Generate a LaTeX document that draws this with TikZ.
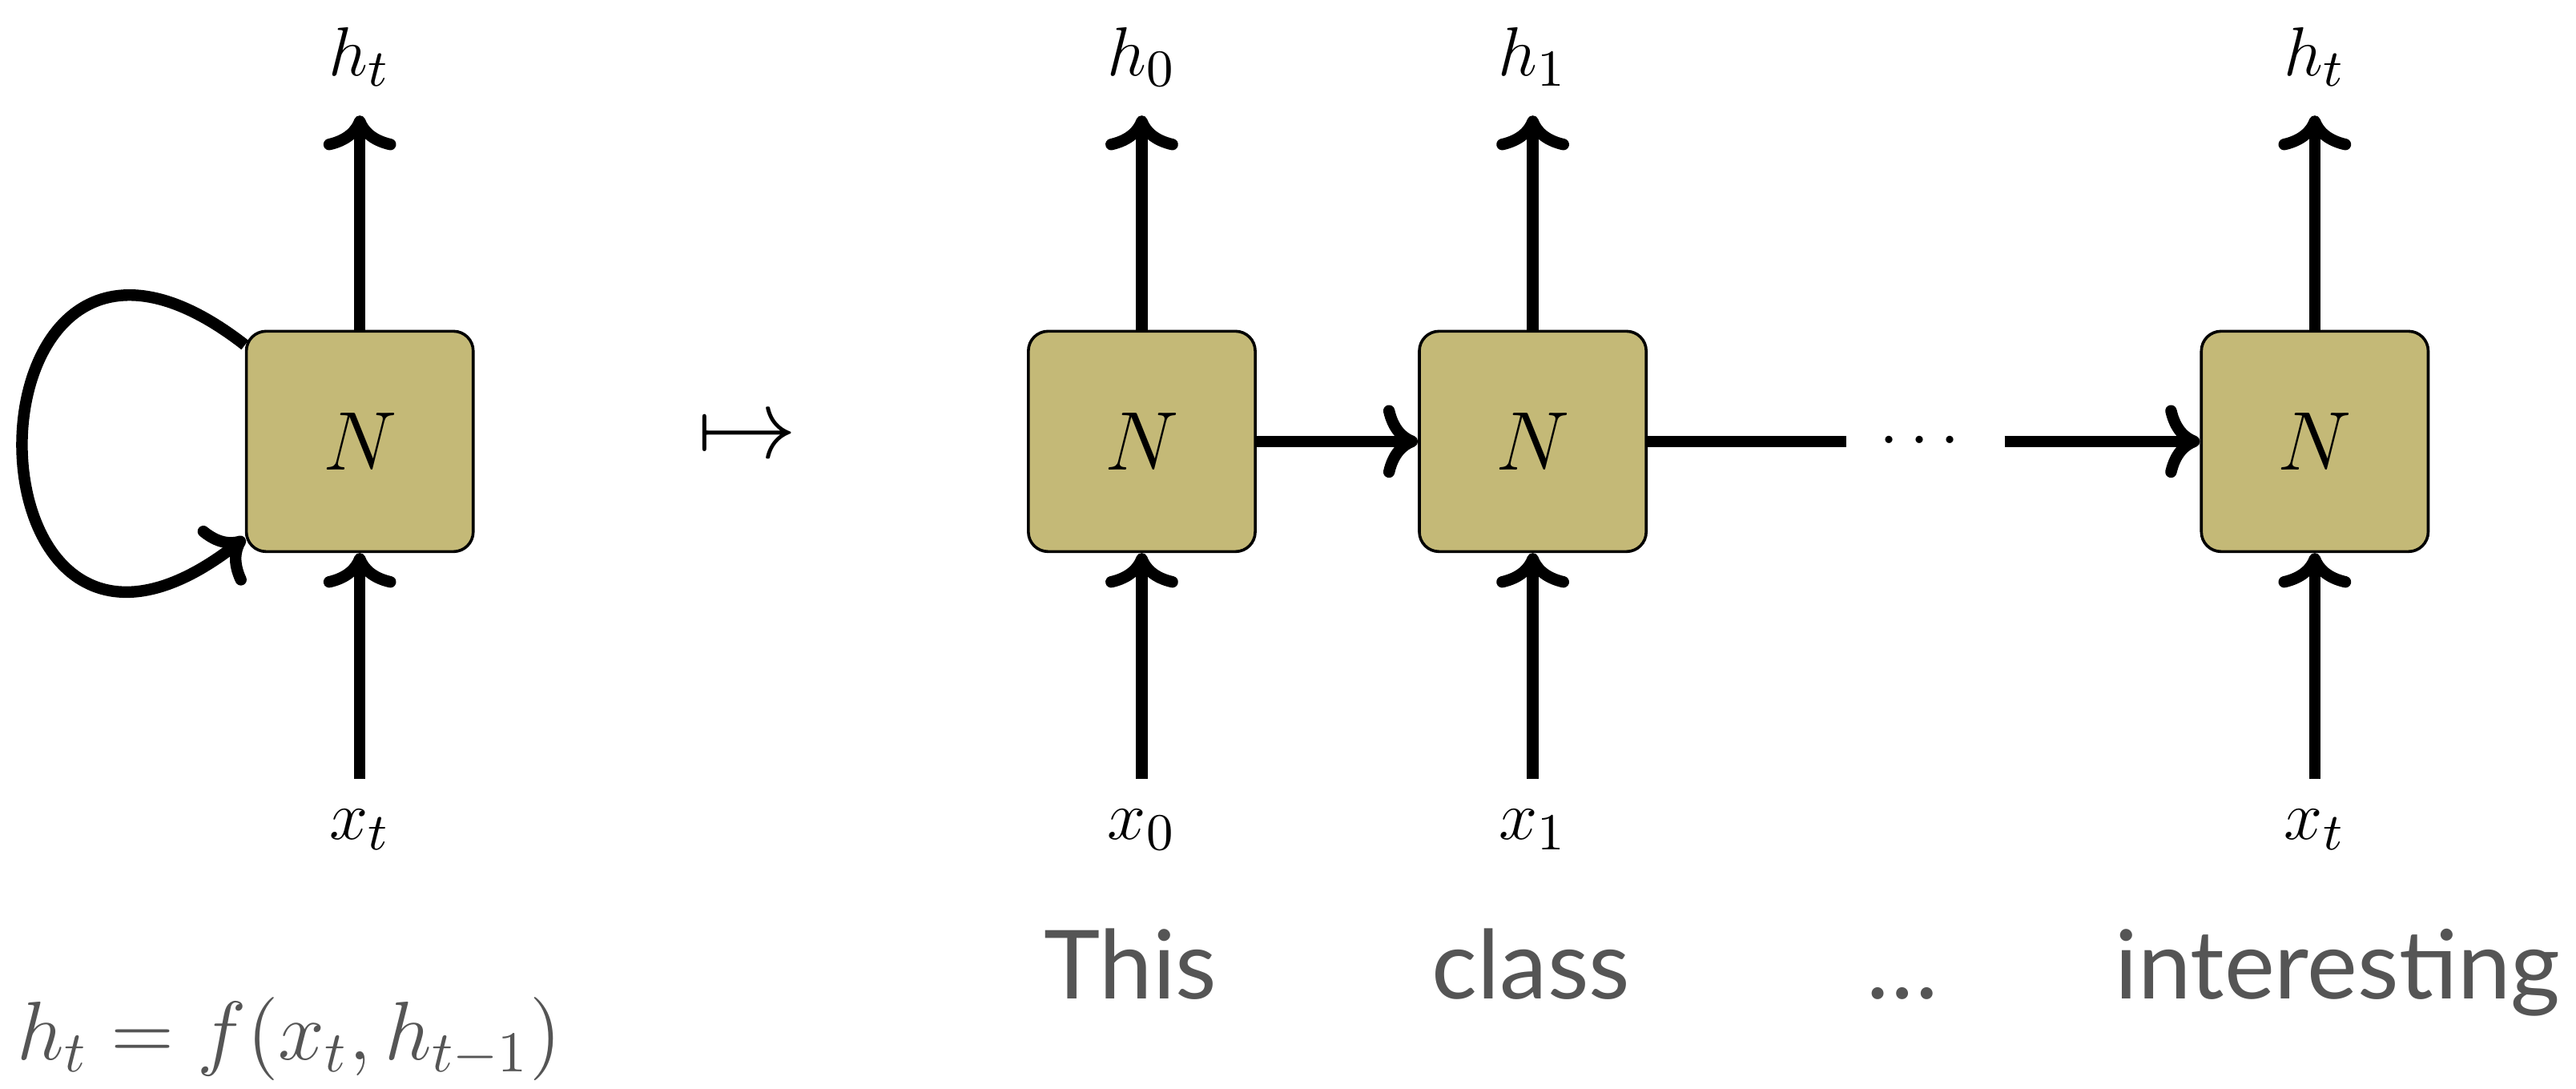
\documentclass[tikz,border=0pt]{standalone}
\usepackage{fontspec}
\usepackage{amsmath,amssymb}
\usepackage{tikz}
\usetikzlibrary{arrows.meta, positioning, calc}
\newfontfamily\wordfont{Lato}
\definecolor{cellfill}{HTML}{C4B977}
\definecolor{textgray}{HTML}{555555}

\begin{document}
\begin{tikzpicture}[
  x=0.01cm, y=0.01cm,
  cell/.style={rectangle, rounded corners=0.12cm, draw=black, line width=0.5pt, fill=cellfill, minimum width=1.38cm, minimum height=1.34cm, inner sep=0pt, font=\fontsize{14}{16}\selectfont},
  outlabel/.style={inner sep=0pt, minimum height=0.7cm, font=\fontsize{13}{15}\selectfont},
  inlabel/.style={inner sep=0pt, minimum height=0.6cm, font=\fontsize{13}{15}\selectfont},
  word/.style={anchor=base, text=textgray, font=\wordfont\fontsize{16.5}{18}\selectfont},
  flow/.style={->, line width=2pt}
]
  \useasboundingbox (0,0) rectangle (1568,662.6);

  % Folded cell
  \node[cell] (lc) at (219,394) {$N$};
  \node[outlabel] (lh) at (219,628) {$h_t$};
  \node[inlabel] (lx) at (219,158) {$x_t$};
  \draw[flow] (lc) -- (lh);
  \draw[flow] (lx) -- (lc);
  \draw[flow] (lc.140) .. controls +(-180,140) and +(-180,-140) .. (lc.220);

  % Maps to
  \node[font=\fontsize{16}{18}\selectfont] (map) at (455,395) {$\mapsto$};

  % Unrolled cells
  \node[cell] (c0) at (695,394) {$N$};
  \node[cell] (c1) at (933,394) {$N$};
  \node[cell] (c2) at (1409,394) {$N$};
  \node[inner sep=0pt, minimum width=0.95cm, font=\fontsize{13}{15}\selectfont] (dots) at (1172,394) {$\cdots$};

  \node[outlabel] (h0) at (695,628) {$h_0$};
  \node[outlabel] (h1) at (933,628) {$h_1$};
  \node[outlabel] (h2) at (1409,628) {$h_t$};
  \node[inlabel] (x0) at (695,158) {$x_0$};
  \node[inlabel] (x1) at (933,158) {$x_1$};
  \node[inlabel] (x2) at (1409,158) {$x_t$};

  % Arrows
  \foreach \i in {0,1,2} {
    \draw[flow] (c\i) -- (h\i);
    \draw[flow] (x\i) -- (c\i);
  }
  \draw[flow] (c0) -- (c1);
  \draw[line width=2pt] (c1) -- (dots);
  \draw[flow] (dots) -- (c2);

  % Words
  \node[word] (w0) at (688,55) {This};
  \node[word] (w1) at (932,55) {class};
  \node[word] (w2) at (1158,55) {\dots};
  \node[word] (w3) at (1423,55) {interesting};

  % Recurrence
  \node[anchor=base west, inner sep=0pt, text=textgray, font=\fontsize{14}{16}\selectfont] (eq) at (10,18) {$h_t = f(x_t, h_{t-1})$};
\end{tikzpicture}
\end{document}
